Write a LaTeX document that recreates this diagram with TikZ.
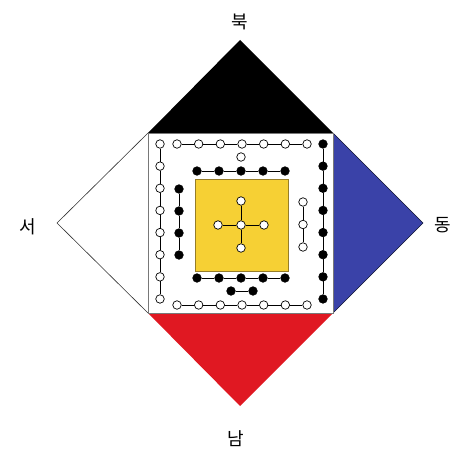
\documentclass[tikz,border=0pt]{standalone}
\usepackage{fontspec}
\newfontfamily\kr{Noto Sans CJK KR}
\definecolor{eastblue}{RGB}{58,66,168}
\definecolor{southred}{RGB}{224,24,34}
\definecolor{centeryellow}{RGB}{246,208,52}
\definecolor{yellowedge}{RGB}{150,125,40}
\definecolor{sqedge}{RGB}{120,120,120}
\begin{document}
\begin{tikzpicture}[x=1pt,y=-1pt,
  wdot/.style={circle,draw=black,fill=white,minimum size=8.5pt,inner sep=0pt,line width=0.7pt},
  bdot/.style={wdot,fill=black},
  link/.style={line width=0.8pt},
  dirlabel/.style={font=\kr\fontsize{18}{20}\selectfont,inner sep=0pt}]
\useasboundingbox (0,0) rectangle (461,460);
% diamond and square corners
\coordinate (N) at (240,40);
\coordinate (E) at (423,223);
\coordinate (S) at (240,406);
\coordinate (W) at (57,223);
\coordinate (A) at (148,133);
\coordinate (B) at (333,133);
\coordinate (C) at (333,313);
\coordinate (D) at (148,313);
% triangles
\fill[black] (N) -- (B) -- (A) -- cycle;
\fill[eastblue] (B) -- (E) -- (C) -- cycle;
\draw[black!70!eastblue,line width=0.6pt] (B) -- (E) -- (C);
\fill[southred] (D) -- (C) -- (S) -- cycle;
\draw[black!80,line width=0.6pt] (A) -- (W) -- (D);
% square
\draw[sqedge,line width=0.6pt,fill=white] (A) rectangle (C);
% yellow centre
\draw[yellowedge,line width=0.8pt,fill=centeryellow] (195,179) rectangle (288,271);
% outer top row (white)
\foreach \i in {0,...,6} \node[wdot] (ot\i) at ({177+21.67*\i},144) {};
\foreach \i [evaluate=\i as \j using int(\i+1)] in {0,...,5} \draw[link] (ot\i) -- (ot\j);
% outer bottom row (white)
\foreach \i in {0,...,6} \node[wdot] (ob\i) at ({177+21.67*\i},305) {};
\foreach \i [evaluate=\i as \j using int(\i+1)] in {0,...,5} \draw[link] (ob\i) -- (ob\j);
% outer left column (white)
\foreach \i in {0,...,7} \node[wdot] (ol\i) at (160,{144+22.14*\i}) {};
\foreach \i [evaluate=\i as \j using int(\i+1)] in {0,...,6} \draw[link] (ol\i) -- (ol\j);
% outer right column (black)
\foreach \i in {0,...,7} \node[bdot] (or\i) at (323,{144+22.14*\i}) {};
\foreach \i [evaluate=\i as \j using int(\i+1)] in {0,...,6} \draw[link] (or\i) -- (or\j);
% single white dot at top
\node[wdot] (one) at (241,157) {};
% inner top row (black)
\foreach \i in {0,...,4} \node[bdot] (it\i) at ({197+22*\i},171) {};
\foreach \i [evaluate=\i as \j using int(\i+1)] in {0,...,3} \draw[link] (it\i) -- (it\j);
% inner bottom row (black)
\foreach \i in {0,...,4} \node[bdot] (ib\i) at ({197+22*\i},278) {};
\foreach \i [evaluate=\i as \j using int(\i+1)] in {0,...,3} \draw[link] (ib\i) -- (ib\j);
% pair below
\node[bdot] (p0) at (231,291) {};
\node[bdot] (p1) at (253,291) {};
\draw[link] (p0) -- (p1);
% inner left column (black)
\foreach \i in {0,...,3} \node[bdot] (il\i) at (179,{189+22*\i}) {};
\foreach \i [evaluate=\i as \j using int(\i+1)] in {0,...,2} \draw[link] (il\i) -- (il\j);
% inner right column (white)
\foreach \i in {0,...,2} \node[wdot] (ir\i) at (303,{202+22.5*\i}) {};
\foreach \i [evaluate=\i as \j using int(\i+1)] in {0,...,1} \draw[link] (ir\i) -- (ir\j);
% centre cross
\node[wdot] (cc) at (241,225) {};
\node[wdot] (cn) at (241,201) {};
\node[wdot] (cs) at (241,248) {};
\node[wdot] (cw) at (218,225) {};
\node[wdot] (ce) at (264,225) {};
\draw[link] (cc) -- (cn);
\draw[link] (cc) -- (cs);
\draw[link] (cc) -- (cw);
\draw[link] (cc) -- (ce);
% labels
\node[dirlabel] (lbN) at (240,22) {북};
\node[dirlabel] (lbE) at (443,225) {동};
\node[dirlabel] (lbW) at (28,227) {서};
\node[dirlabel] (lbS) at (236,439) {남};
\end{tikzpicture}
\end{document}
